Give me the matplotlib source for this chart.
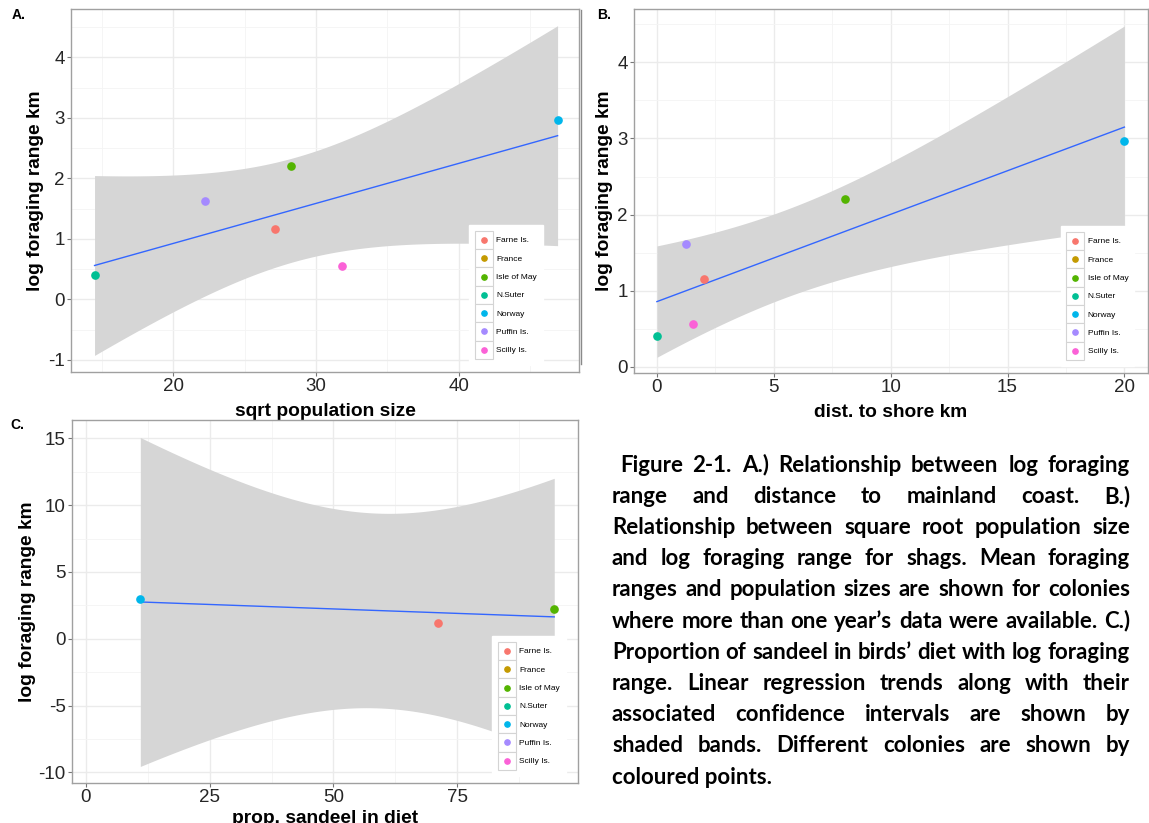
import numpy as np
import matplotlib
matplotlib.use("Agg")
from matplotlib import pyplot as plt
from matplotlib.lines import Line2D
from matplotlib.patches import Rectangle
from matplotlib.legend_handler import HandlerBase
from matplotlib.ticker import MultipleLocator

#%% data

colonies = ["Farne Is.", "France", "Isle of May", "N.Suter", "Norway", "Puffin Is.", "Scilly Is."]
colours = ["#F8766D", "#C49A00", "#53B400", "#00C094", "#00B6EB", "#A58AFF", "#FB61D7"]

log_range = [1.16, np.nan, 2.20, 0.40, 2.97, 1.62, 0.56]
sqrt_pop = [27.12, np.nan, 28.23, 14.49, 46.94, 22.23, 31.82]
dist_shore = [2.03, np.nan, 8.03, 0.0, 20.0, 1.26, 1.54]
prop_sandeel = [71.2, np.nan, 94.6, np.nan, 11.0, np.nan, np.nan]

# two-sided 95% t quantiles by residual df
t95 = {1: 12.706, 2: 4.303, 3: 3.182, 4: 2.776, 5: 2.571}

caption = [
    " Figure 2-1. A.) Relationship between log foraging",
    "range and distance to mainland coast. B.)",
    "Relationship between square root population size",
    "and log foraging range for shags. Mean foraging",
    "ranges and population sizes are shown for colonies",
    "where more than one year\u2019s data were available. C.)",
    "Proportion of sandeel in birds\u2019 diet with log foraging",
    "range. Linear regression trends along with their",
    "associated confidence intervals are shown by",
    "shaded bands. Different colonies are shown by",
    "coloured points.",
]

#%%

class KeyBox(HandlerBase):
    def create_artists(self, legend, orig_handle, xdescent, ydescent, width, height, fontsize, trans):
        box = Rectangle((-xdescent, -ydescent), width, height, facecolor="white",
                        edgecolor="#d4d4d4", lw=0.8, transform=trans)
        dot = Line2D([width / 2 - xdescent], [height / 2 - ydescent], ls="", marker="o",
                     ms=3.8, color=orig_handle.get_color(), transform=trans)
        return [box, dot]


def smooth_lm(ax, x, y):
    x = np.asarray(x, float)
    y = np.asarray(y, float)
    ok = ~np.isnan(x) & ~np.isnan(y)
    x, y = x[ok], y[ok]
    n = len(x)
    b, a = np.polyfit(x, y, 1)
    s = np.sqrt(np.sum((y - (a + b * x)) ** 2) / (n - 2))
    sxx = np.sum((x - x.mean()) ** 2)
    xs = np.linspace(x.min(), x.max(), 80)
    fit = a + b * xs
    se = s * np.sqrt(1.0 / n + (xs - x.mean()) ** 2 / sxx)
    ax.fill_between(xs, fit - t95[n - 2] * se, fit + t95[n - 2] * se, color="#d6d6d6", lw=0, zorder=2)
    ax.plot(xs, fit, color="#3366FF", lw=1.0, zorder=3)


def panel(ax, x, y, xlab, xlim, ylim, xmaj, ymaj, leg_x, ylab_x, xlab_y=-0.085):
    smooth_lm(ax, x, y)
    for xi, yi, c in zip(x, y, colours):
        ax.plot([xi], [yi], "o", color=c, ms=5.2, zorder=4)
    ax.set_xlim(*xlim)
    ax.set_ylim(*ylim)
    ax.xaxis.set_major_locator(MultipleLocator(xmaj))
    ax.xaxis.set_minor_locator(MultipleLocator(xmaj / 2))
    ax.yaxis.set_major_locator(MultipleLocator(ymaj))
    ax.yaxis.set_minor_locator(MultipleLocator(ymaj / 2))
    ax.grid(which="major", color="#ebebeb", lw=1.0, zorder=0)
    ax.grid(which="minor", color="#f4f4f4", lw=0.6, zorder=0)
    ax.set_axisbelow(True)
    ax.tick_params(which="major", length=3, width=0.8, color="#777777", pad=1.5,
                   labelsize=13.5, labelcolor="#262626")
    ax.tick_params(which="minor", length=0)
    for sp in ax.spines.values():
        sp.set_color("#a0a0a0")
        sp.set_linewidth(1.0)
    ax.set_xlabel(xlab, fontsize=13.8, fontweight="bold")
    ax.set_ylabel("log foraging range km", fontsize=13.8, fontweight="bold")
    ax.xaxis.set_label_coords(0.5, xlab_y)
    ax.yaxis.set_label_coords(ylab_x, 0.5)
    handles = [Line2D([], [], ls="", marker="o", color=c) for c in colours]
    leg = ax.legend(handles, colonies, loc="lower left", bbox_to_anchor=(leg_x, 0.02),
                    borderaxespad=0, fontsize=6, handler_map={Line2D: KeyBox()},
                    handlelength=2.16, handleheight=3.0, labelspacing=0, handletextpad=0.4,
                    borderpad=0.7, fancybox=False, framealpha=1, edgecolor="white")
    leg.set_zorder(5)


W, H = 1149, 823
plt.rcParams["font.family"] = ["Liberation Sans", "DejaVu Sans"]
plt.rcParams["axes.unicode_minus"] = False
fig = plt.figure(figsize=(W / 100, H / 100), dpi=100)

axA = fig.add_axes([71 / W, 1 - 372 / H, 508 / W, 363 / H])
axB = fig.add_axes([634 / W, 1 - 373 / H, 514 / W, 364 / H])
axC = fig.add_axes([72 / W, 1 - 783 / H, 506 / W, 363 / H])

panel(axA, sqrt_pop, log_range, "sqrt population size", (12.84, 48.44), (-1.2, 4.8), 10, 1, 0.783, -0.053)
panel(axB, dist_shore, log_range, "dist. to shore km", (-0.98, 21.01), (-0.08, 4.7), 5, 1, 0.83, -0.041)
panel(axC, prop_sandeel, log_range, "prop. sandeel in diet", (-2.8, 99.4), (-10.8, 16.37), 25, 5, 0.83, -0.071,
      xlab_y=-0.074)

fig.text(12 / W, 1 - 15 / H, "A.", fontsize=10, fontweight="bold", va="center")
fig.text(597 / W, 1 - 15 / H, "B.", fontsize=10, fontweight="bold", va="center")
fig.text(10 / W, 1 - 425 / H, "C.", fontsize=10, fontweight="bold", va="center")
fig.add_artist(Line2D([581 / W, 581 / W], [1 - 10 / H, 1 - 364 / H], color="#8a8a8a", lw=1))

#%% justified caption

renderer = fig.canvas.get_renderer()


def text_width(s, size):
    t = fig.text(0, 0, s, fontsize=size, fontweight="bold", family="Lato")
    w = t.get_window_extent(renderer=renderer).width
    t.remove()
    return w


base = 14.0
widest = max(text_width(line.strip(), base) for line in caption)
cap_size = base * 518.0 / widest
right = 1130.0
for i, line in enumerate(caption):
    y = 1 - (465 + i * 31.2) / H
    left = 620.0 if line.startswith(" ") else 612.0
    words = line.split()
    if i == len(caption) - 1:
        fig.text(left / W, y, line.strip(), fontsize=cap_size, fontweight="bold", family="Lato", va="center")
        continue
    widths = [text_width(w, cap_size) for w in words]
    gap = (right - left - sum(widths)) / (len(words) - 1)
    x = left
    for w, wd in zip(words, widths):
        fig.text(x / W, y, w, fontsize=cap_size, fontweight="bold", family="Lato", va="center")
        x += wd + gap

plt.savefig("out.png", dpi=100)
